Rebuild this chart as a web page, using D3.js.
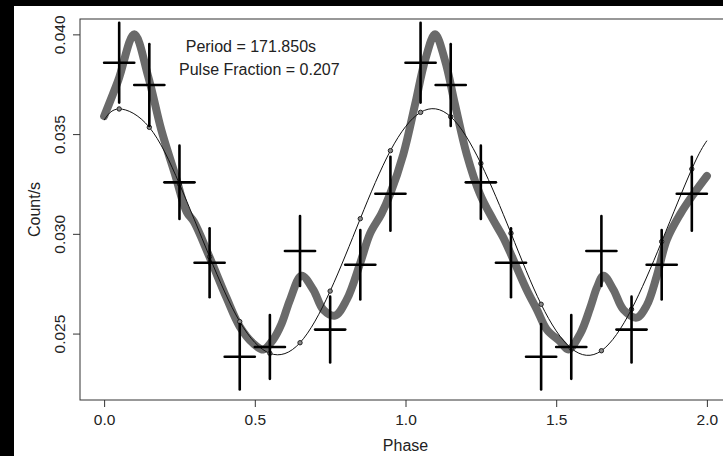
<!DOCTYPE html>
<html>
<head>
<meta charset="utf-8">
<script src="https://cdn.jsdelivr.net/npm/d3@7"></script>
<style>
  html, body { margin: 0; padding: 0; background: #000; }
  svg { display: block; }
  text { font-family: "Liberation Sans", Arial, Helvetica, sans-serif; fill: #222; }
</style>
</head>
<body>
<div id="chart"></div>
<script>
// folded light curve, two cycles
const binPhase = [0.05, 0.15, 0.25, 0.35, 0.45, 0.55, 0.65, 0.75, 0.85, 0.95,
                  1.05, 1.15, 1.25, 1.35, 1.45, 1.55, 1.65, 1.75, 1.85, 1.95]
const binRate = [0.03858, 0.03746, 0.03258, 0.02855, 0.02384, 0.02433, 0.02914, 0.02520, 0.02845, 0.03201,
                 0.03858, 0.03746, 0.03258, 0.02855, 0.02384, 0.02433, 0.02914, 0.02520, 0.02845, 0.03201]
const binErr = [0.00200, 0.00205, 0.00184, 0.00173, 0.00164, 0.00160, 0.00175, 0.00165, 0.00174, 0.00185,
                0.00200, 0.00205, 0.00184, 0.00173, 0.00164, 0.00160, 0.00175, 0.00165, 0.00174, 0.00185]
const binHalfWidth = 0.05

// sine model (thin line), circles at the bin centres
const modelPhase = [0.00, 0.05, 0.15, 0.25, 0.35, 0.45, 0.55, 0.65, 0.75, 0.85, 0.95,
                    1.05, 1.15, 1.25, 1.35, 1.45, 1.55, 1.65, 1.75, 1.85, 1.95, 2.00]
const modelRate = [0.03570, 0.03626, 0.03534, 0.03250, 0.02885, 0.02560, 0.02401, 0.02454, 0.02713, 0.03076, 0.03417,
                   0.03609, 0.03587, 0.03353, 0.03003, 0.02647, 0.02426, 0.02414, 0.02622, 0.02961, 0.03325, 0.03467]

// smoothed curve (thick grey)
const smoothPhase = [0.000, 0.047, 0.100, 0.146, 0.190, 0.235, 0.274, 0.298, 0.348, 0.406, 0.450, 0.495, 0.528,
                     0.561, 0.589, 0.617, 0.655, 0.694, 0.727, 0.766, 0.805, 0.849, 0.882, 0.920, 0.949, 0.993,
                     1.032, 1.065, 1.098, 1.131, 1.164, 1.203, 1.247, 1.291, 1.325, 1.358, 1.402, 1.436, 1.469,
                     1.513, 1.540, 1.580, 1.613, 1.635, 1.657, 1.690, 1.723, 1.767, 1.800, 1.834, 1.867, 1.912,
                     1.956, 2.000]
const smoothRate = [0.0359, 0.0377, 0.0400, 0.0379, 0.0352, 0.0330, 0.0311, 0.0306, 0.0289, 0.0268, 0.02535, 0.0245, 0.0242,
                    0.0247, 0.0255, 0.0267, 0.0279, 0.0272, 0.0262, 0.0259, 0.0267, 0.0285, 0.0300, 0.0310, 0.0320, 0.0340,
                    0.0365, 0.0387, 0.0400, 0.0387, 0.0365, 0.0340, 0.0320, 0.0307, 0.0298, 0.0287, 0.0272, 0.0262, 0.0252,
                    0.0246, 0.0242, 0.0250, 0.0263, 0.0273, 0.0279, 0.0272, 0.0262, 0.0258, 0.0264, 0.0279, 0.0297, 0.0310,
                    0.0320, 0.0329]

const xTicks = [0, 0.5, 1.0, 1.5, 2.0]
const yTicks = [0.025, 0.030, 0.035, 0.040]
const xTitle = 'Phase'
const yTitle = 'Count/s'
const periodLabel = 'Period = 171.850s'
const fractionLabel = 'Pulse Fraction = 0.207'

const width = 723
const height = 456
const plotLeft = 80
const plotRight = 731
const plotTop = 19
const plotBottom = 400

const svg = d3.select('#chart').append('svg')
  .attr('width', width)
  .attr('height', height)

svg.append('rect')
  .attr('x', 14).attr('y', 6)
  .attr('width', width - 14).attr('height', height - 6)
  .attr('fill', 'white')

const x = d3.scaleLinear().domain([-0.08, 2.08]).range([plotLeft, plotRight])
const y = d3.scaleLinear().domain([0.02167, 0.04077]).range([plotBottom, plotTop])

// axes
const xAxis = svg.append('g')
  .attr('transform', 'translate(0,' + plotBottom + ')')
  .call(d3.axisBottom(x).tickValues(xTicks).tickFormat(d3.format('.1f')).tickSize(7).tickPadding(7.3))
xAxis.select('.domain').remove()
xAxis.selectAll('line').attr('stroke', '#333')
xAxis.selectAll('text').attr('font-size', 15.5).attr('fill', '#222')
  .style('font-family', '"Liberation Sans", Arial, sans-serif')

const yAxis = svg.append('g')
  .attr('transform', 'translate(' + plotLeft + ',0)')
  .call(d3.axisLeft(y).tickValues(yTicks).tickFormat(d3.format('.3f')).tickSize(7))
yAxis.select('.domain').remove()
yAxis.selectAll('line').attr('stroke', '#333')
yAxis.selectAll('text')
  .attr('transform', 'rotate(-90)')
  .attr('x', 0).attr('y', -15).attr('dy', 0)
  .attr('text-anchor', 'middle')
  .attr('font-size', 15.5).attr('fill', '#222')
  .style('font-family', '"Liberation Sans", Arial, sans-serif')

svg.append('rect')
  .attr('x', plotLeft).attr('y', plotTop)
  .attr('width', plotRight - plotLeft).attr('height', plotBottom - plotTop)
  .attr('fill', 'none')
  .attr('stroke', '#333')
  .attr('stroke-width', 1)

svg.append('text')
  .attr('x', (plotLeft + plotRight) / 2).attr('y', 451)
  .attr('text-anchor', 'middle')
  .attr('font-size', 16)
  .text(xTitle)

svg.append('text')
  .attr('transform', 'translate(40,' + (plotTop + plotBottom) / 2 + ') rotate(-90)')
  .attr('text-anchor', 'middle')
  .attr('font-size', 16)
  .text(yTitle)

// smoothed curve
const smoothData = smoothPhase.map((p, i) => ({ x: p, y: smoothRate[i] }))
const smoothLine = d3.line()
  .x(d => x(d.x))
  .y(d => y(d.y))
  .curve(d3.curveCatmullRom.alpha(0.5))
svg.append('path')
  .datum(smoothData)
  .attr('d', smoothLine)
  .attr('fill', 'none')
  .attr('stroke', '#6a6a6a')
  .attr('stroke-width', 8)
  .attr('stroke-linecap', 'round')
  .attr('stroke-linejoin', 'round')

// sine model
const modelData = modelPhase.map((p, i) => ({ x: p, y: modelRate[i] }))
const modelLine = d3.line()
  .x(d => x(d.x))
  .y(d => y(d.y))
  .curve(d3.curveNatural)
svg.append('path')
  .datum(modelData)
  .attr('d', modelLine)
  .attr('fill', 'none')
  .attr('stroke', '#111')
  .attr('stroke-width', 1)

svg.append('g').selectAll('circle')
  .data(modelData.filter(d => d.x > 0 && d.x < 2))
  .join('circle')
  .attr('cx', d => x(d.x))
  .attr('cy', d => y(d.y))
  .attr('r', 2.2)
  .attr('fill', '#8a8a8a')
  .attr('stroke', '#222')
  .attr('stroke-width', 1)

// binned data with error crosses
const bins = binPhase.map((p, i) => ({ x: p, y: binRate[i], e: binErr[i] }))
const crosses = svg.append('g')
  .attr('stroke', '#000')
  .attr('stroke-width', 2.6)
  .attr('stroke-linecap', 'round')
crosses.selectAll('.vbar')
  .data(bins)
  .join('line')
  .attr('class', 'vbar')
  .attr('x1', d => x(d.x)).attr('x2', d => x(d.x))
  .attr('y1', d => y(d.y - d.e)).attr('y2', d => y(d.y + d.e))
crosses.selectAll('.hbar')
  .data(bins)
  .join('line')
  .attr('class', 'hbar')
  .attr('x1', d => x(d.x - binHalfWidth)).attr('x2', d => x(d.x + binHalfWidth))
  .attr('y1', d => y(d.y)).attr('y2', d => y(d.y))

// annotations
svg.append('text')
  .attr('x', x(0.487)).attr('y', 51.5)
  .attr('text-anchor', 'middle')
  .attr('font-size', 16)
  .text(periodLabel)
svg.append('text')
  .attr('x', x(0.515)).attr('y', 75)
  .attr('text-anchor', 'middle')
  .attr('font-size', 16)
  .text(fractionLabel)
</script>
</body>
</html>
